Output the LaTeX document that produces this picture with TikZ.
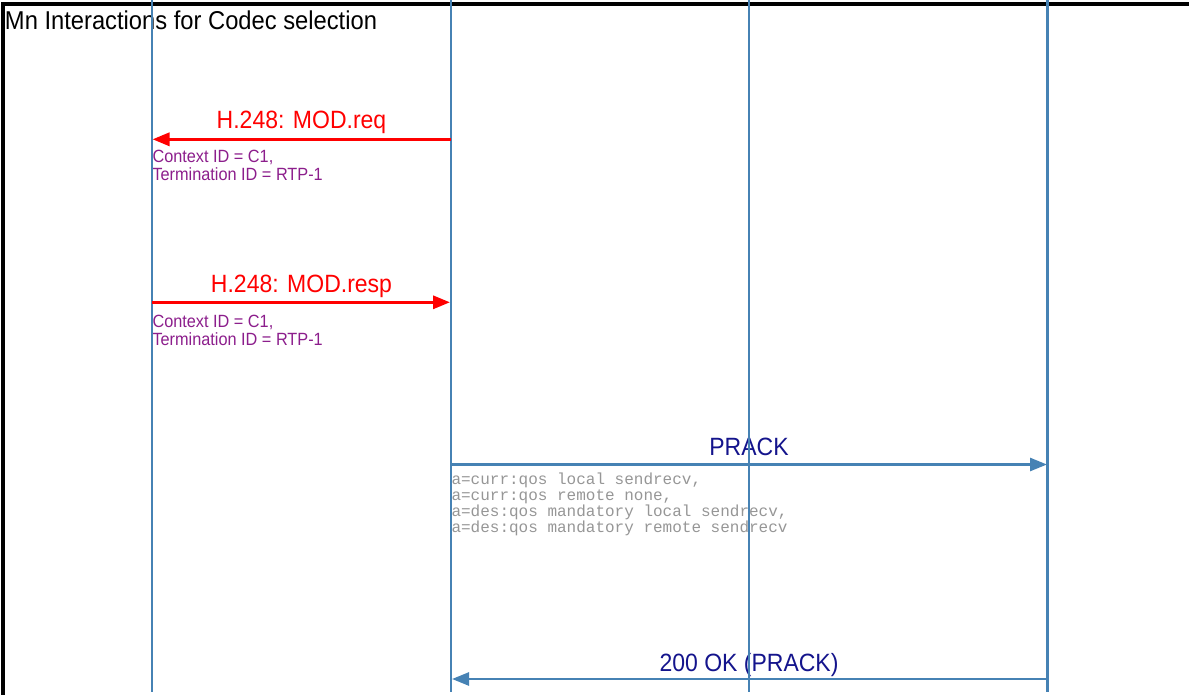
\documentclass[tikz,border=0pt]{standalone}
\usepackage{fontspec}
\setmainfont{Liberation Sans}[FakeStretch=0.92]
\newfontfamily\monofont{Liberation Mono}
\usetikzlibrary{arrows.meta}
\definecolor{lifeblue}{RGB}{70,130,180}
\definecolor{msgred}{RGB}{255,0,0}
\definecolor{notepurple}{RGB}{140,30,140}
\definecolor{navytext}{RGB}{20,20,140}
\definecolor{monogray}{RGB}{150,150,150}
\tikzset{
  lifeline/.style={draw=lifeblue, line width=2.2pt},
  frameline/.style={draw=black, line width=3.2pt},
  redmsg/.style={draw=msgred, line width=3.2pt, -{Triangle[length=17pt,width=13pt]}},
  bluemsg/.style={draw=lifeblue, line width=2.6pt, -{Triangle[length=17pt,width=13pt]}},
  titletext/.style={anchor=base west, font=\fontsize{25.8}{30}\selectfont},
  redlabel/.style={anchor=base, text=msgred, font=\fontsize{25}{30}\selectfont},
  bluelabel/.style={anchor=base, text=navytext, font=\fontsize{25}{30}\selectfont},
  notetext/.style={anchor=base west, text=notepurple, font=\fontsize{17.7}{18}\selectfont},
  monotext/.style={anchor=base west, text=monogray, font=\monofont\fontsize{16}{16}\selectfont},
}
\begin{document}
\begin{tikzpicture}[x=1pt,y=-1pt, every node/.style={inner sep=0pt, outer sep=0pt}]
\useasboundingbox (0,0) rectangle (1189,695);
% frame
\coordinate (fbl) at (3,695);
\coordinate (ftl) at (3,4);
\coordinate (ftr) at (1189,4);
\draw[frameline] (fbl) -- (ftl) -- (ftr);
\node[titletext] (title) at (5,30) {Mn Interactions for Codec selection};

% labels
\node[redlabel] (l1) at (301.5,129) {H.248: MOD.req};
\node[notetext] (n1a) at (152.5,163) {Context ID = C1,};
\node[notetext] (n1b) at (152.5,181) {Termination ID = RTP-1};

\node[redlabel] (l2) at (301.5,292) {H.248: MOD.resp};
\node[notetext] (n2a) at (152.5,327) {Context ID = C1,};
\node[notetext] (n2b) at (152.5,345) {Termination ID = RTP-1};

\node[bluelabel] (l3) at (749,455) {PRACK};
\node[monotext] (m1) at (451.5,484.5) {a=curr:qos local sendrecv,};
\node[monotext] (m2) at (451.5,500.5) {a=curr:qos remote none,};
\node[monotext] (m3) at (451.5,516.5) {a=des:qos mandatory local sendrecv,};
\node[monotext] (m4) at (451.5,532.5) {a=des:qos mandatory remote sendrecv};

\node[bluelabel] (l4) at (749,671) {200 OK (PRACK)};

% lifelines
\coordinate (A0) at (152,0);   \coordinate (A1) at (152,692);
\coordinate (B0) at (451,0);   \coordinate (B1) at (451,692);
\coordinate (C0) at (749,0);   \coordinate (C1) at (749,692);
\coordinate (D0) at (1047.5,0); \coordinate (D1) at (1047.5,692);
\draw[lifeline] (A0) -- (A1);
\draw[lifeline] (B0) -- (B1);
\draw[lifeline] (C0) -- (C1);
\draw[lifeline] (D0) -- (D1);

% messages
\coordinate (r1s) at (451,139.3);  \coordinate (r1e) at (152.5,139.3);
\coordinate (r2s) at (152,302.3);  \coordinate (r2e) at (450,302.3);
\coordinate (b1s) at (451,464.5);  \coordinate (b1e) at (1047,464.5);
\coordinate (b2s) at (1047.5,679); \coordinate (b2e) at (452,679);
\draw[redmsg] (r1s) -- (r1e);
\draw[redmsg] (r2s) -- (r2e);
\draw[bluemsg] (b1s) -- (b1e);
\draw[bluemsg] (b2s) -- (b2e);
\end{tikzpicture}
\end{document}
